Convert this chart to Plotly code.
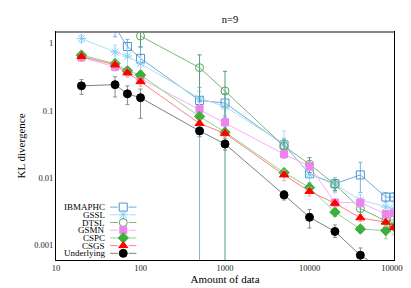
import plotly.graph_objects as go

amounts = [20, 50, 70, 100, 500, 1000, 5000, 10000, 20000, 40000, 80000, 100000]
series_names = ["IBMAPHC", "GSSL", "DTSL", "GSMN", "CSPC", "CSGS", "Underlying"]

ibmaphc = [None, 1.75, 0.90, 0.60, 0.142, 0.130, 0.031, 0.0115, 0.0082, 0.0111, 0.0052, 0.0052]
ibmaphc_up = [0, 0.5, 0.25, 0.28, 0.08, 0.05, 0.008, 0.003, 0.002, 0.006, 0.0008, 0.0008]
ibmaphc_dn = [0, 0.5, 0.27, 0.11, 0.20, 0.05, 0.008, 0.003, 0.002, 0.005, 0.0008, 0.0008]

gssl = [1.18, 0.745, 0.65, 0.50, 0.154, 0.115, 0.032, 0.0113, 0.008, 0.0047, 0.0037, 0.0035]
gssl_up = [0.15, 0.2, 0.2, 0.15, 0.04, 0.03, 0.018, 0.003, 0.002, 0.001, 0.0006, 0.0006]
gssl_dn = [0.15, 0.2, 0.2, 0.15, 0.04, 0.03, 0.008, 0.003, 0.002, 0.001, 0.0006, 0.0006]

dtsl = [None, None, None, 1.29, 0.436, 0.196, 0.0297, 0.016, 0.008, 0.0035, 0.0023, 0.0024]
dtsl_up = [0, 0, 0, 0.4, 0.24, 0.19, 0.007, 0.004, 0.0015, 0.0008, 0.0004, 0.0004]
dtsl_dn = [0, 0, 0, 0.4, 0.30, 0.25, 0.007, 0.004, 0.0015, 0.0008, 0.0004, 0.0004]

gsmn = [0.62, 0.45, 0.38, 0.30, 0.105, 0.067, 0.0226, 0.015, 0.0043, 0.0043, 0.0029, 0.0030]
gsmn_up = [0.08, 0.06, 0.05, 0.05, 0.015, 0.01, 0.003, 0.002, 0.0006, 0.0006, 0.0003, 0.0003]
gsmn_dn = [0.08, 0.06, 0.05, 0.05, 0.015, 0.01, 0.003, 0.002, 0.0006, 0.0006, 0.0003, 0.0003]

cspc = [0.67, 0.50, 0.39, 0.34, 0.082, 0.048, 0.012, 0.0072, 0.0031, 0.00174, 0.00165, 0.0019]
cspc_up = [0.08, 0.07, 0.05, 0.05, 0.01, 0.006, 0.0015, 0.0009, 0.0004, 0.0002, 0.0003, 0.0002]
cspc_dn = [0.08, 0.07, 0.05, 0.05, 0.01, 0.006, 0.0015, 0.0009, 0.0004, 0.0002, 0.0004, 0.0002]

csgs = [0.64, 0.48, 0.366, 0.27, 0.0645, 0.046, 0.0111, 0.0063, 0.0042, 0.00255, 0.0022, 0.00184]
csgs_up = [0.07, 0.06, 0.05, 0.04, 0.008, 0.005, 0.002, 0.0009, 0.0005, 0.0003, 0.0003, 0.0003]
csgs_dn = [0.07, 0.06, 0.05, 0.04, 0.008, 0.005, 0.002, 0.0009, 0.0005, 0.0003, 0.0003, 0.0004]

underlying = [0.234, 0.244, 0.178, 0.156, 0.050, 0.032, 0.0056, 0.0026, 0.0016, 0.00071, 0.0004, 0.0003]
underlying_up = [0.056, 0.076, 0.056, 0.054, 0.009, 0.006, 0.0009, 0.0008, 0.0004, 0.0002, 0.0001, 0.0001]
underlying_dn = [0.059, 0.084, 0.055, 0.079, 0.009, 0.006, 0.0009, 0.0008, 0.0003, 0.0002, 0.0001, 0.0001]

x_ticks = [10, 100, 1000, 10000, 100000]
x_ticklabels = ["10", "100", "1000", "10000", "100000"]
y_ticks = [0.001, 0.01, 0.1, 1]
y_ticklabels = ["0.001", "0.01", "0.1", "1"]

styles = {
    "IBMAPHC": dict(symbol="square-open", mcolor="#4f93d2", lcolor="#6fa9dc", ecolor="#7ab3e0", size=8),
    "GSSL": dict(symbol="asterisk-open", mcolor="#87cefa", lcolor="#b0def5", ecolor="#a9dcf7", size=8),
    "DTSL": dict(symbol="circle-open", mcolor="#5aa55a", lcolor="#7ab87a", ecolor="#4f9a88", size=8),
    "GSMN": dict(symbol="square", mcolor="#ee82ee", lcolor="#f6b0f6", ecolor="#f4a6f4", size=7),
    "CSPC": dict(symbol="diamond", mcolor="#3caf3c", lcolor="#8fd48f", ecolor="#9ad49a", size=8),
    "CSGS": dict(symbol="triangle-up", mcolor="#ff0000", lcolor="#ff8080", ecolor="#ffa0a0", size=8),
    "Underlying": dict(symbol="circle", mcolor="#000000", lcolor="#808080", ecolor="#8c8c8c", size=8),
}

data = {
    "IBMAPHC": (ibmaphc, ibmaphc_up, ibmaphc_dn),
    "GSSL": (gssl, gssl_up, gssl_dn),
    "DTSL": (dtsl, dtsl_up, dtsl_dn),
    "GSMN": (gsmn, gsmn_up, gsmn_dn),
    "CSPC": (cspc, cspc_up, cspc_dn),
    "CSGS": (csgs, csgs_up, csgs_dn),
    "Underlying": (underlying, underlying_up, underlying_dn),
}

serif = "Liberation Serif, Times New Roman, Times, serif"

fig = go.Figure()
for name in series_names:
    vals, up, dn = data[name]
    st = styles[name]
    fig.add_trace(go.Scatter(
        x=amounts, y=vals, mode="lines+markers", name=name, showlegend=False,
        connectgaps=False,
        line=dict(color=st["lcolor"], width=1),
        marker=dict(symbol=st["symbol"], size=st["size"], color=st["mcolor"],
                    line=dict(color=st["mcolor"], width=1)),
        error_y=dict(type="data", symmetric=False, array=up, arrayminus=dn,
                     color=st["ecolor"], thickness=1, width=2),
    ))

# manual legend (text to the left of the sample), drawn on an overlay axis
leg_y0 = 0.232
leg_dy = 0.0338
for i, name in enumerate(series_names):
    st = styles[name]
    yy = leg_y0 - i * leg_dy
    fig.add_trace(go.Scatter(
        x=[0.160, 0.183, None, 0.215, 0.238], y=[yy, yy, None, yy, yy], mode="lines",
        line=dict(color=st["lcolor"], width=1), xaxis="x2", yaxis="y2",
        showlegend=False, hoverinfo="skip"))
    fig.add_trace(go.Scatter(
        x=[0.199], y=[yy], mode="markers", xaxis="x2", yaxis="y2",
        marker=dict(symbol=st["symbol"], size=st["size"], color=st["mcolor"],
                    line=dict(color=st["mcolor"], width=1)),
        showlegend=False, hoverinfo="skip"))
    fig.add_annotation(x=0.150, y=yy, xref="x2", yref="y2", text=name,
                       showarrow=False, xanchor="right", yanchor="middle",
                       font=dict(family=serif, size=9, color="#000000"))

fig.update_layout(
    width=411, height=288,
    margin=dict(l=48, r=14, t=24, b=26),
    paper_bgcolor="white", plot_bgcolor="white",
    font=dict(family=serif, size=9, color="#222222"),
    title=dict(text="n=9", x=0.54, xanchor="center", y=0.96, yanchor="middle",
               font=dict(family=serif, size=10.5, color="#000000")),
    xaxis=dict(type="log", range=[1, 5], tickvals=x_ticks, ticktext=x_ticklabels,
               showgrid=False, zeroline=False, showline=True, linecolor="#000000",
               linewidth=1, mirror=True, ticks="", ticklen=0,
               tickfont=dict(family=serif, size=8.5, color="#222222"),
               title=dict(text="Amount of data", standoff=3,
                          font=dict(family=serif, size=11, color="#000000"))),
    yaxis=dict(type="log", range=[-3.22, 0.17], tickvals=y_ticks, ticktext=y_ticklabels,
               showgrid=False, zeroline=False, showline=True, linecolor="#000000",
               linewidth=1, mirror=True, ticks="", ticklen=0,
               tickfont=dict(family=serif, size=8.5, color="#222222"),
               title=dict(text="KL divergence", standoff=6,
                          font=dict(family=serif, size=11, color="#000000"))),
    xaxis2=dict(overlaying="x", range=[0, 1], visible=False, fixedrange=True),
    yaxis2=dict(overlaying="y", range=[0, 1], visible=False, fixedrange=True),
    shapes=[dict(type="line", xref="paper", yref="paper", x0=0, x1=1, y0=1, y1=1,
                 line=dict(color="#888888", width=2))],
)

fig.write_html("out.html")
